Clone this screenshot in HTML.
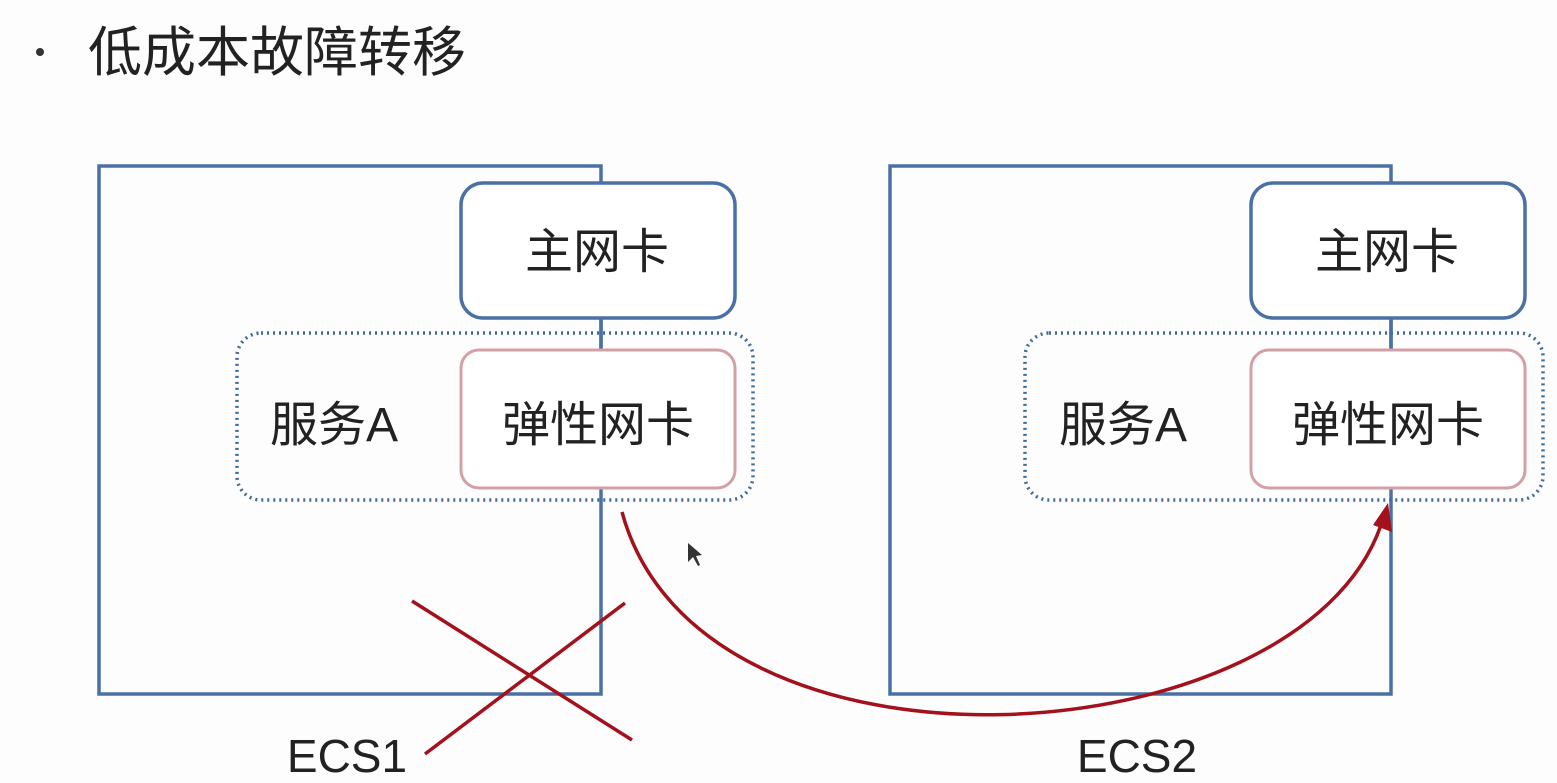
<!DOCTYPE html>
<html><head><meta charset="utf-8"><style>
body{margin:0;background:#fff;}
svg{display:block}
text{font-family:"Liberation Sans","Noto Sans CJK SC",sans-serif;fill:#222;}
</style></head><body>
<svg width="1557" height="783" viewBox="0 0 1557 783">
<rect width="1557" height="783" fill="#fdfdfd"/>
<circle cx="40" cy="52" r="4" fill="#333"/>
<text x="88" y="71" font-size="54">低成本故障转移</text>

<g fill="none" stroke="#4a70a5" stroke-width="3.5">
<rect x="99" y="166" width="502" height="528"/>
<rect x="890" y="166" width="501" height="528"/>
<rect x="461" y="183" width="274" height="135" rx="22" fill="#fff"/>
<rect x="1251" y="183" width="274" height="135" rx="22" fill="#fff"/>
<line x1="601" y1="318" x2="601" y2="350"/>
<line x1="1391" y1="318" x2="1391" y2="350"/>
</g>
<g fill="none" stroke="#3f6c99" stroke-width="3.5" stroke-dasharray="2 4">
<rect x="237" y="333" width="516" height="167" rx="24"/>
<rect x="1025" y="333" width="518" height="167" rx="24"/>
</g>
<g fill="#fff" stroke="#d4a0a8" stroke-width="3">
<rect x="461" y="350" width="274" height="138" rx="18"/>
<rect x="1251" y="350" width="274" height="138" rx="18"/>
</g>
<g font-size="48" text-anchor="middle">
<text x="597" y="268">主网卡</text>
<text x="1387" y="268">主网卡</text>
<text x="598" y="441">弹性网卡</text>
<text x="1388" y="441">弹性网卡</text>
<text x="334" y="441">服务A</text>
<text x="1123" y="441">服务A</text>
</g>
<g font-size="46" text-anchor="middle">
<text x="347" y="772">ECS1</text>
<text x="1137" y="772">ECS2</text>
</g>
<g stroke="#a3111c" stroke-width="3.5" fill="none">
<line x1="412" y1="601" x2="632" y2="740"/>
<line x1="625" y1="603" x2="425" y2="754"/>
<path d="M622,512 C700,800 1300,760 1381,525"/>
</g>
<polygon points="1388,503 1392,532 1373,525" fill="#a3111c"/>
<polygon points="688,543 688,562 693,557 698,566 700,565 696,556 702,555" fill="#333"/>
</svg>
</body></html>
